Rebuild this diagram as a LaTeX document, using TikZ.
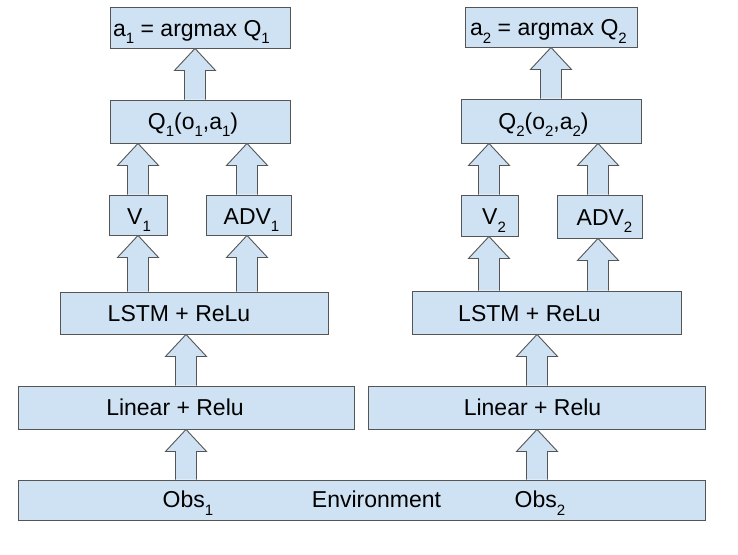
\documentclass[tikz,border=0pt]{standalone}
\usepackage{fontspec}
\setmainfont{Liberation Sans}
\usetikzlibrary{calc}
\definecolor{boxfill}{HTML}{CFE2F3}
\definecolor{boxline}{HTML}{555555}
\newcommand{\subs}[1]{\raisebox{-7.5pt}{\fontsize{15}{15}\selectfont #1}}
\tikzset{
  box/.style={draw=boxline, fill=boxfill, line width=0.9pt, inner sep=0pt},
  lbl/.style={anchor=base, inner sep=0pt, font=\fontsize{23}{27}\selectfont},
  barrow/.style={draw=boxline, fill=boxfill, line width=0.9pt, line join=miter},
}
\newcommand{\blockarrow}[3]{%
  \path[barrow] let \p1=(#2.north), \p2=(#3.south) in
    (#1pt-10.5pt,\y1) -- (#1pt-10.5pt,\y2-22pt) -- (#1pt-20.5pt,\y2-22pt)
    -- (#1pt,\y2) -- (#1pt+20.5pt,\y2-22pt) -- (#1pt+10.5pt,\y2-22pt)
    -- (#1pt+10.5pt,\y1);}
\begin{document}
\begin{tikzpicture}[x=1pt,y=-1pt]
\useasboundingbox (0,0) rectangle (738,554);
% boxes (left)
\node[box, minimum width=180pt, minimum height=41pt] (a1) at (200,27.5) {};
\node[box, minimum width=180pt, minimum height=43pt] (q1) at (200,121.5) {};
\node[box, minimum width=58pt, minimum height=40pt] (v1) at (138,215) {};
\node[box, minimum width=85pt, minimum height=40pt] (adv1) at (248.5,215) {};
\node[box, minimum width=268pt, minimum height=42pt] (lstm1) at (194,313) {};
\node[box, minimum width=336pt, minimum height=43pt] (lin1) at (186,407.5) {};
% boxes (right)
\node[box, minimum width=172pt, minimum height=40pt] (a2) at (551,27) {};
\node[box, minimum width=180pt, minimum height=44pt] (q2) at (551,121) {};
\node[box, minimum width=57pt, minimum height=41pt] (v2) at (489.5,215.5) {};
\node[box, minimum width=85pt, minimum height=43pt] (adv2) at (599.5,216.5) {};
\node[box, minimum width=269pt, minimum height=43pt] (lstm2) at (546.5,312.5) {};
\node[box, minimum width=337pt, minimum height=43pt] (lin2) at (536.5,407.5) {};
% environment
\node[box, minimum width=687pt, minimum height=40pt] (env) at (361.5,500) {};
% labels
\node[lbl] (ta1) at (191.5,36) {a\subs{1} = argmax Q\subs{1}};
\node[lbl] (tq1) at (193,129) {Q\subs{1}(o\subs{1},a\subs{1})};
\node[lbl] (tv1) at (139,224) {V\subs{1}};
\node[lbl] (tadv1) at (251.5,224) {ADV\subs{1}};
\node[lbl] (tlstm1) at (179,321.5) {LSTM + ReLu};
\node[lbl] (tlin1) at (175,415.5) {Linear + Relu};
\node[lbl] (ta2) at (548.5,35.5) {a\subs{2} = argmax Q\subs{2}};
\node[lbl] (tq2) at (543.5,129) {Q\subs{2}(o\subs{2},a\subs{2})};
\node[lbl] (tv2) at (494,224.5) {V\subs{2}};
\node[lbl] (tadv2) at (604.5,225) {ADV\subs{2}};
\node[lbl] (tlstm2) at (529.5,321) {LSTM + ReLu};
\node[lbl] (tlin2) at (532.5,415.5) {Linear + Relu};
\node[lbl] (tobs1) at (188,507.5) {Obs\subs{1}};
\node[lbl] (tenv) at (376.5,507.5) {Environment};
\node[lbl] (tobs2) at (540,507.5) {Obs\subs{2}};
% block arrows
\blockarrow{195}{q1}{a1}
\blockarrow{138}{v1}{q1}
\blockarrow{247}{adv1}{q1}
\blockarrow{138}{lstm1}{v1}
\blockarrow{247}{lstm1}{adv1}
\blockarrow{186}{lin1}{lstm1}
\blockarrow{186}{env}{lin1}
\blockarrow{551}{q2}{a2}
\blockarrow{489}{v2}{q2}
\blockarrow{598}{adv2}{q2}
\blockarrow{489}{lstm2}{v2}
\blockarrow{598}{lstm2}{adv2}
\blockarrow{537}{lin2}{lstm2}
\blockarrow{537}{env}{lin2}
\end{tikzpicture}
\end{document}
